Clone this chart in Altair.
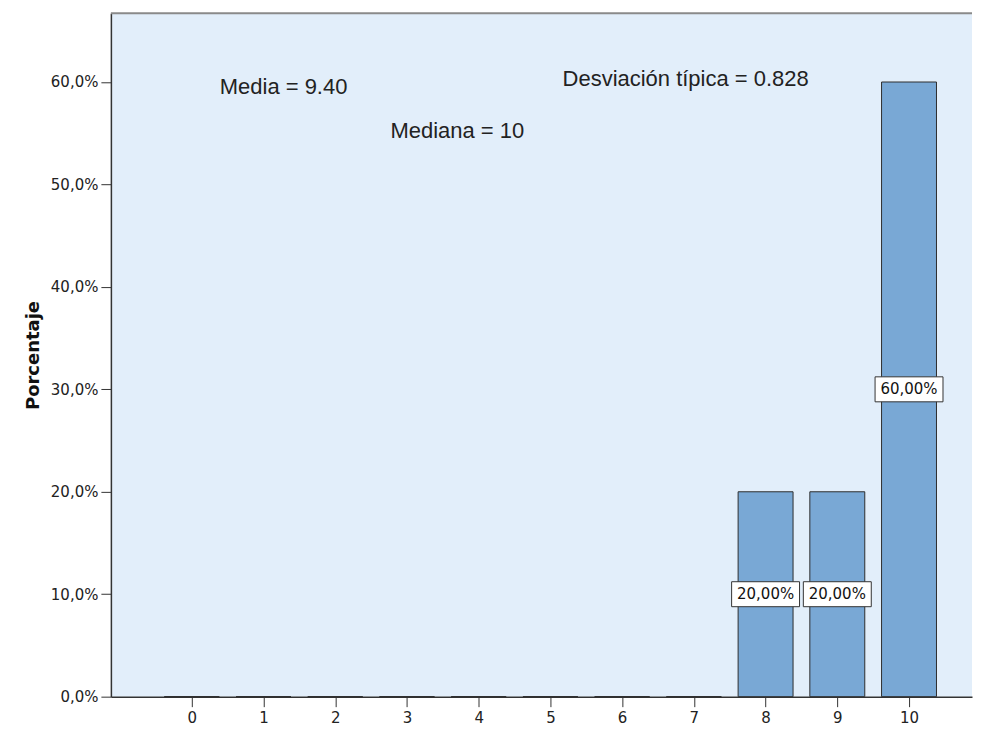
import altair as alt
import pandas as pd

# ---- data ----
categories = [0, 1, 2, 3, 4, 5, 6, 7, 8, 9, 10]
percentages = [0, 0, 0, 0, 0, 0, 0, 0, 20, 20, 60]
y_ticks = [0, 10, 20, 30, 40, 50, 60]
stat_labels = ["Media = 9.40", "Mediana = 10", "Desviación típica = 0.828"]
stat_x = [0.39, 2.77, 5.17]
stat_y = [58.8, 54.5, 59.6]

df = pd.DataFrame({"cat": categories, "pct": percentages})
stats = pd.DataFrame({"label": stat_labels, "x": stat_x, "y": stat_y})

W, H = 862, 684
xscale = alt.Scale(domain=[-1.128, 10.878], nice=False, zero=False, padding=0)
yscale = alt.Scale(domain=[0, 66.7], nice=False, padding=0)

x_axis = alt.Axis(values=categories, format="d", grid=False,
                  tickSize=10, labelPadding=4, labelFont="DejaVu Sans",
                  labelFontSize=15, labelColor="#222222", domainColor="#333333",
                  tickColor="#333333", labelFlush=False, domainWidth=1.5)
y_axis = alt.Axis(values=y_ticks,
                  labelExpr="replace(format(datum.value, '.1f'), '.', ',') + '%'",
                  titleFont="DejaVu Sans", titleFontSize=18,
                  titleFontWeight="bold", titleColor="#111111", titlePadding=8,
                  grid=False, tickSize=10, labelPadding=3, labelFont="DejaVu Sans",
                  labelFontSize=15, labelColor="#222222", domainColor="#333333",
                  tickColor="#333333", domainWidth=1.5)


def X(field):
    return alt.X(field, scale=xscale, axis=x_axis, title=None)


def Y(field):
    return alt.Y(field, scale=yscale, axis=y_axis, title="Porcentaje")


bars = alt.Chart(df).mark_bar(size=55, fill="#79A8D5", stroke="#2e2e2e", strokeWidth=1).encode(
    x=X("cat:Q"), y=Y("pct:Q"),
)

box_path = "M-2.72,-1L2.72,-1L2.72,1L-2.72,1Z"
labelled = alt.Chart(df).transform_filter("datum.pct > 0").transform_calculate(
    mid="datum.pct / 2",
    lab="replace(format(datum.pct, '.2f'), '.', ',') + '%'",
)
boxes = labelled.mark_point(shape=box_path, size=625, filled=True, fill="white",
                            stroke="#333333", strokeWidth=1, opacity=1).encode(
    x=X("cat:Q"), y=Y("mid:Q"),
)
box_text = labelled.mark_text(font="DejaVu Sans", fontSize=15, color="#111111").encode(
    x=X("cat:Q"), y=Y("mid:Q"), text="lab:N",
)

stat_text = alt.Chart(stats).mark_text(font="Liberation Sans", fontSize=22, align="left",
                                       baseline="alphabetic", color="#222222").encode(
    x=X("x:Q"), y=Y("y:Q"), text="label:N",
)

top_line = alt.Chart(pd.DataFrame({"k": [0]})).mark_rule(color="#8a8a8a", strokeWidth=2).encode(
    x=alt.value(0), x2=alt.value(W), y=alt.value(0)
)

chart = alt.layer(bars, boxes, box_text, stat_text, top_line).properties(
    width=W, height=H,
    background="white",
    padding={"left": 16, "top": 4, "right": 0, "bottom": 0},
).configure_view(stroke=None, fill="#E2EEFA")

chart.save("out.html", embed_options={"renderer": "svg", "actions": False})
